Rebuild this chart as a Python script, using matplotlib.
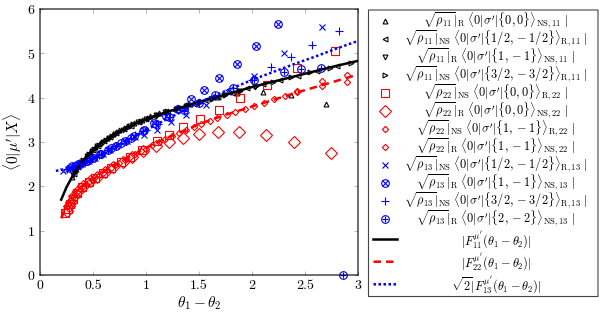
import matplotlib
matplotlib.use("Agg")
import matplotlib.pyplot as plt
from matplotlib.lines import Line2D
from matplotlib.patches import Rectangle

plt.rcParams['font.family'] = 'cmr10'
plt.rcParams['mathtext.fontset'] = 'cm'
plt.rcParams['axes.formatter.use_mathtext'] = True
plt.rcParams['path.snap'] = False

# curvas teoricas
F11_x = [0.20, 0.25, 0.30, 0.35, 0.40, 0.45, 0.50, 0.60, 0.70, 0.80, 0.90, 1.00, 1.20, 1.40,
         1.60, 1.80, 2.00, 2.20, 2.40, 2.60, 2.80, 3.00]
F11_y = [1.70, 1.98, 2.20, 2.40, 2.56, 2.70, 2.82, 3.02, 3.17, 3.30, 3.42, 3.52, 3.68, 3.83,
         3.97, 4.10, 4.24, 4.36, 4.48, 4.60, 4.72, 4.83]
F22_x = [0.20, 0.25, 0.30, 0.35, 0.40, 0.50, 0.60, 0.70, 0.80, 0.90, 1.00, 1.20, 1.40, 1.60,
         1.80, 2.00, 2.20, 2.40, 2.60, 2.80, 3.00]
F22_y = [1.28, 1.55, 1.75, 1.90, 2.00, 2.16, 2.32, 2.46, 2.60, 2.73, 2.87, 3.09, 3.30, 3.49,
         3.65, 3.80, 3.95, 4.10, 4.24, 4.38, 4.52]
F13_x = [0.15, 0.20, 0.30, 0.40, 0.50, 0.60, 0.70, 0.80, 0.90, 1.00, 1.20, 1.40, 1.60, 1.80,
         2.00, 2.20, 2.40, 2.60, 2.80, 3.00]
F13_y = [2.35, 2.37, 2.43, 2.52, 2.63, 2.76, 2.88, 3.01, 3.14, 3.27, 3.52, 3.76, 4.00, 4.20,
         4.40, 4.58, 4.76, 4.93, 5.11, 5.28]

# pontos numericos, rho_11
up11_x = [0.30, 0.34, 0.38, 0.42, 0.47, 0.52, 0.57, 0.63, 0.69, 0.75, 0.82, 0.89, 0.96, 1.04,
          1.12, 1.21, 1.30, 1.40, 1.50, 1.67, 1.86, 2.10, 2.37, 2.70]
up11_y = [2.22, 2.38, 2.52, 2.64, 2.77, 2.88, 2.98, 3.09, 3.18, 3.26, 3.35, 3.43, 3.50, 3.58,
          3.65, 3.71, 3.78, 3.85, 3.92, 4.02, 4.10, 4.12, 4.05, 3.85]
left11_x = [0.32, 0.36, 0.40, 0.45, 0.50, 0.55, 0.60, 0.66, 0.72, 0.79, 0.86, 0.93, 1.00, 1.08,
            1.17, 1.26, 1.35, 1.45, 1.56, 1.68, 1.81, 1.95, 2.10, 2.26, 2.43, 2.61, 2.80]
left11_y = [2.28, 2.43, 2.56, 2.70, 2.82, 2.92, 3.02, 3.11, 3.20, 3.29, 3.37, 3.45, 3.52, 3.59,
            3.66, 3.73, 3.80, 3.86, 3.94, 4.02, 4.11, 4.21, 4.30, 4.39, 4.50, 4.60, 4.72]
down11_x = [0.31, 0.35, 0.39, 0.44, 0.49, 0.54, 0.59, 0.65, 0.71, 0.78, 0.85, 0.92, 1.00, 1.09,
            1.18, 1.28, 1.38, 1.49, 1.61, 1.74, 1.88, 2.03]
down11_y = [2.26, 2.41, 2.54, 2.68, 2.80, 2.91, 3.00, 3.10, 3.19, 3.28, 3.36, 3.44, 3.53, 3.60,
            3.67, 3.75, 3.82, 3.89, 3.98, 4.07, 4.16, 4.25]
right11_x = [0.33, 0.37, 0.41, 0.46, 0.51, 0.56, 0.62, 0.68, 0.74, 0.81, 0.88, 0.95, 1.03, 1.11,
             1.20, 1.30, 1.40, 1.51, 1.62, 1.75, 1.89, 2.04, 2.20, 2.37, 2.55, 2.74, 2.93]
right11_y = [2.32, 2.47, 2.59, 2.72, 2.84, 2.94, 3.05, 3.14, 3.23, 3.31, 3.40, 3.47, 3.55, 3.62,
             3.69, 3.76, 3.83, 3.91, 3.98, 4.07, 4.16, 4.26, 4.36, 4.46, 4.57, 4.68, 4.79]

# rho_22
sq22_x = [0.24, 0.26, 0.28, 0.31, 0.35, 0.40, 0.46, 0.52, 0.59, 0.67, 0.76, 0.85, 0.96, 1.10,
          1.22, 1.35, 1.51, 1.69, 1.89, 2.14, 2.42, 2.78]
sq22_y = [1.39, 1.50, 1.60, 1.72, 1.85, 1.98, 2.09, 2.19, 2.30, 2.42, 2.55, 2.67, 2.83, 3.03,
          3.16, 3.33, 3.52, 3.73, 4.00, 4.29, 4.66, 5.06]
dia22_x = [0.25, 0.27, 0.29, 0.32, 0.36, 0.41, 0.47, 0.54, 0.61, 0.69, 0.78, 0.87, 0.97, 1.09,
           1.22, 1.35, 1.50, 1.68, 1.88, 2.13, 2.40, 2.75]
dia22_y = [1.45, 1.55, 1.65, 1.78, 1.90, 2.00, 2.11, 2.22, 2.33, 2.44, 2.56, 2.67, 2.80, 2.92,
           3.01, 3.10, 3.18, 3.22, 3.22, 3.16, 3.00, 2.76]
sd1_x = [0.26, 0.29, 0.33, 0.38, 0.43, 0.49, 0.56, 0.63, 0.71, 0.80, 0.90, 1.00, 1.12, 1.25,
         1.38, 1.52, 1.67, 1.84, 2.02, 2.21, 2.42, 2.66, 2.90]
sd1_y = [1.58, 1.70, 1.83, 1.95, 2.05, 2.15, 2.26, 2.37, 2.48, 2.60, 2.73, 2.85, 3.00, 3.14,
         3.27, 3.40, 3.54, 3.68, 3.82, 3.96, 4.13, 4.27, 4.36]
sd2_x = [0.27, 0.31, 0.35, 0.40, 0.46, 0.52, 0.59, 0.67, 0.75, 0.85, 0.95, 1.06, 1.18, 1.31,
         1.45, 1.60, 1.76, 1.93, 2.11, 2.31, 2.42, 2.66, 2.90]
sd2_y = [1.62, 1.76, 1.88, 1.99, 2.10, 2.20, 2.31, 2.42, 2.53, 2.66, 2.79, 2.93, 3.07, 3.21,
         3.33, 3.47, 3.61, 3.75, 3.88, 4.03, 4.16, 4.38, 4.51]

# rho_13
x13_x = [0.22, 0.26, 0.30, 0.35, 0.40, 0.46, 0.52, 0.59, 0.66, 0.74, 0.82, 0.90, 0.98, 1.10,
         1.24, 1.38, 1.57, 1.77, 2.02, 2.30, 2.66]
x13_y = [2.34, 2.38, 2.42, 2.46, 2.51, 2.58, 2.65, 2.74, 2.82, 2.93, 3.03, 3.12, 3.16, 3.27,
         3.45, 3.61, 3.84, 4.12, 4.50, 5.00, 5.60]
ot13_x = [0.28, 0.33, 0.38, 0.44, 0.50, 0.57, 0.64, 0.72, 0.80, 0.89, 0.98, 1.08, 1.19, 1.30,
          1.42, 1.55, 1.69, 1.86, 2.04, 2.25]
ot13_y = [2.42, 2.46, 2.51, 2.57, 2.64, 2.72, 2.81, 2.91, 3.02, 3.14, 3.27, 3.42, 3.58, 3.75,
          3.97, 4.18, 4.45, 4.77, 5.17, 5.67]
pl13_x = [0.25, 0.30, 0.36, 0.42, 0.49, 0.56, 0.64, 0.72, 0.81, 0.90, 1.00, 1.11, 1.23, 1.36,
          1.50, 1.65, 1.82, 2.00, 2.18, 2.37, 2.57, 2.82]
pl13_y = [2.40, 2.44, 2.49, 2.55, 2.63, 2.71, 2.81, 2.91, 3.03, 3.15, 3.27, 3.41, 3.56, 3.71,
          3.87, 4.04, 4.22, 4.40, 4.69, 4.91, 5.18, 5.51]
op13_x = [0.30, 0.36, 0.43, 0.50, 0.58, 0.67, 0.76, 0.86, 0.97, 1.09, 1.22, 1.36, 1.50, 1.65,
          1.82, 2.02, 2.30, 2.46, 2.65, 2.86]
op13_y = [2.45, 2.50, 2.57, 2.65, 2.74, 2.86, 2.97, 3.10, 3.24, 3.40, 3.56, 3.73, 3.89, 4.05,
          4.22, 4.40, 4.58, 4.64, 4.67, 0.00]

labels = [
    r"$\sqrt{\rho_{11}}|_{\rm R}\ \langle 0|\sigma'|\{0,0\}\rangle_{\rm NS,11}\ |$",
    r"$\sqrt{\rho_{11}}|_{\rm NS}\ \langle 0|\sigma'|\{1/2,-1/2\}\rangle_{\rm R,11}\ |$",
    r"$\sqrt{\rho_{11}}|_{\rm R}\ \langle 0|\sigma'|\{1,-1\}\rangle_{\rm NS,11}\ |$",
    r"$\sqrt{\rho_{11}}|_{\rm NS}\ \langle 0|\sigma'|\{3/2,-3/2\}\rangle_{\rm R,11}\ |$",
    r"$\sqrt{\rho_{22}}|_{\rm NS}\ \langle 0|\sigma'|\{0,0\}\rangle_{\rm R,22}\ |$",
    r"$\sqrt{\rho_{22}}|_{\rm R}\ \langle 0|\sigma'|\{0,0\}\rangle_{\rm NS,22}\ |$",
    r"$\sqrt{\rho_{22}}|_{\rm NS}\ \langle 0|\sigma'|\{1,-1\}\rangle_{\rm R,22}\ |$",
    r"$\sqrt{\rho_{22}}|_{\rm R}\ \langle 0|\sigma'|\{1,-1\}\rangle_{\rm NS,22}\ |$",
    r"$\sqrt{\rho_{13}}|_{\rm NS}\ \langle 0|\sigma'|\{1/2,-1/2\}\rangle_{\rm R,13}\ |$",
    r"$\sqrt{\rho_{13}}|_{\rm R}\ \langle 0|\sigma'|\{1,-1\}\rangle_{\rm NS,13}\ |$",
    r"$\sqrt{\rho_{13}}|_{\rm NS}\ \langle 0|\sigma'|\{3/2,-3/2\}\rangle_{\rm R,13}\ |$",
    r"$\sqrt{\rho_{13}}|_{\rm R}\ \langle 0|\sigma'|\{2,-2\}\rangle_{\rm NS,13}\ |$",
    r"$|F_{11}^{\mu'}(\theta_1-\theta_2)|$",
    r"$|F_{22}^{\mu'}(\theta_1-\theta_2)|$",
    r"$\sqrt{2}|F_{13}^{\mu'}(\theta_1-\theta_2)|$",
]

# estilo de cada serie: (x, y, marcadores sobrepostos, cor, tamanho)
series = [
    (up11_x, up11_y, ['^'], 'black', 3.5),
    (left11_x, left11_y, ['<'], 'black', 3.5),
    (down11_x, down11_y, ['v'], 'black', 3.5),
    (right11_x, right11_y, ['>'], 'black', 3.5),
    (sq22_x, sq22_y, ['s'], '#ff0000', 5.2),
    (dia22_x, dia22_y, ['D'], '#ff0000', 6),
    (sd1_x, sd1_y, ['D'], '#ff0000', 3.2),
    (sd2_x, sd2_y, ['D'], '#ff0000', 3.2),
    (x13_x, x13_y, ['x'], '#0000ff', 3.8),
    (ot13_x, ot13_y, ['o', 'x'], '#0000ff', 5.5),
    (pl13_x, pl13_y, ['+'], '#0000ff', 5.5),
    (op13_x, op13_y, ['o', '+'], '#0000ff', 5.5),
]
curves = [
    (F11_x, F11_y, 'black', '-'),
    (F22_x, F22_y, '#ff0000', (0, (3, 2))),
    (F13_x, F13_y, '#0000ff', (0, (1, 1))),
]

W, H = 599, 315
fig = plt.figure(figsize=(W / 100, H / 100), dpi=100)
ax = fig.add_axes([40/W, 40/H, 318/W, 266/H])

mew = 0.8
def msize(ms, m, s):
    # o x/+ dentro do circulo fica menor
    return s * 0.72 if (len(ms) > 1 and m != 'o') else s

for x, y, ms, c, s in series:
    for m in ms:
        ax.plot(x, y, linestyle='none', marker=m, ms=msize(ms, m, s), color=c,
                mfc='none', mec=c, mew=mew, clip_on=False)
for x, y, c, ls in curves:
    ax.plot(x, y, color=c, lw=1.8, ls=ls)

ax.set_xlim(0, 3)
ax.set_ylim(0, 6)
ax.set_xticks([0, 0.5, 1, 1.5, 2, 2.5, 3])
ax.set_xticklabels(['0', '0.5', '1', '1.5', '2', '2.5', '3'])
ax.set_yticks([0, 1, 2, 3, 4, 5, 6])
ax.tick_params(direction='in', top=True, right=True, labelsize=10, length=3,
               width=0.5, color='#999999')
for sp in ax.spines.values():
    sp.set_linewidth(0.8)
ax.set_xlabel(r"$\theta_1-\theta_2$", fontsize=11, labelpad=2)
ax.set_ylabel(r"$\langle 0|\mu'|X\rangle$", fontsize=11, labelpad=2)

# legenda feita a mao (textos centrados como no pgfplots)
def fx(px):
    return px / W
def fy(py):
    return 1 - py / H

fig.add_artist(Rectangle((fx(368.5), fy(296.5)), (598 - 368.5) / W, (296.5 - 10) / H,
                         transform=fig.transFigure, fill=True, facecolor='white',
                         edgecolor='#444444', lw=0.8))

fig.canvas.draw()
r = fig.canvas.get_renderer()
t = fig.text(0, 0, labels[1], fontsize=9)
fs = 9 * 184 / t.get_window_extent(r).width
t.remove()

rows = [20.7 + 18.0 * i for i in range(12)] + [239.5, 261.7, 284.3]
for i, lab in enumerate(labels):
    yy = fy(rows[i])
    fig.text(fx(496), yy, lab, fontsize=fs, ha='center', va='center')
    if i < 12:
        x, y, ms, c, s = series[i]
        for m in ms:
            fig.add_artist(Line2D([fx(385)], [yy], transform=fig.transFigure,
                                  linestyle='none', marker=m, ms=msize(ms, m, s), color=c,
                                  mfc='none', mec=c, mew=mew))
    else:
        x, y, c, ls = curves[i - 12]
        fig.add_artist(Line2D([fx(373.5), fx(397.5)], [yy, yy], transform=fig.transFigure,
                              color=c, lw=1.8, ls=ls))

fig.savefig('out.png', dpi=100)
